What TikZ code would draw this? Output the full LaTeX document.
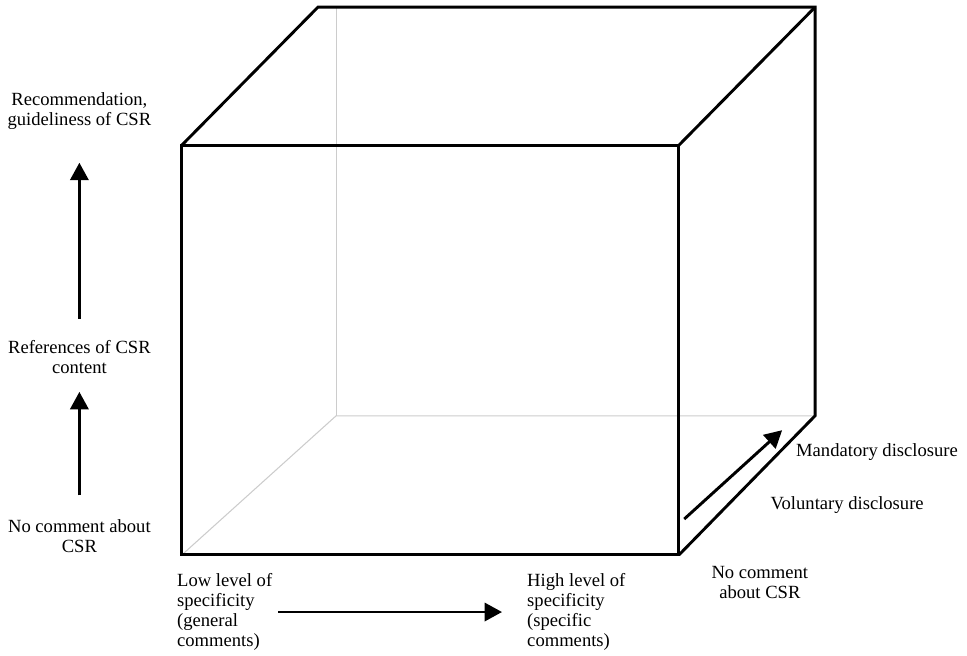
\documentclass[tikz,border=0pt]{standalone}
\usepackage{fontspec}
\setmainfont{Liberation Serif}
\usetikzlibrary{arrows.meta,positioning}

\tikzset{
  edge/.style={line width=2.2pt, line join=miter},
  hidden/.style={line width=0.8pt, gray!40},
  lbl/.style={font=\fontsize{14}{15}\selectfont, align=center, inner sep=0pt},
  arr/.style={line width=2.2pt, -{Triangle[length=0.46cm,width=0.48cm]}},
}

\begin{document}
\begin{tikzpicture}
  \useasboundingbox (0,0) rectangle (25.58,17.35);

  % hidden edges of the cube
  \draw[hidden] (4.81,2.67) -- (8.89,6.35) -- (21.56,6.35);
  \draw[hidden] (8.89,6.35) -- (8.89,17.16);

  % visible edges
  \draw[edge] (4.81,2.67) rectangle (17.96,13.51);
  \draw[edge] (4.81,13.51) -- (8.41,17.16) -- (21.56,17.16) -- (21.56,6.35) -- (17.96,2.67);
  \draw[edge] (17.96,13.51) -- (21.56,17.16);

  % vertical axis
  \node[lbl] (rec) at (2.1,14.41) {Recommendation,\\guideliness of CSR};
  \node[lbl] (ref) at (2.1,7.91) {References of CSR\\content};
  \node[lbl] (nocl) at (2.1,3.17) {No comment about\\CSR};
  \draw[arr, shorten <=0.56cm, shorten >=0.87cm] (ref) -- (rec);
  \draw[arr, shorten <=0.63cm, shorten >=0.48cm] (nocl) -- (ref);

  % horizontal axis
  \node[lbl, anchor=west, align=left] (low) at (4.68,1.16) {Low level of\\specificity\\(general\\comments)};
  \node[lbl, anchor=west, align=left] (high) at (13.94,1.16) {High level of\\specificity\\(specific\\comments)};
  \draw[arr, shorten <=0.15cm, shorten >=0.66cm] (low) -- (high);

  % depth axis
  \node[lbl] (nocr) at (20.10,1.95) {No comment\\about CSR};
  \node[lbl] (vol) at (22.41,3.99) {Voluntary disclosure};
  \node[lbl] (mand) at (23.20,5.39) {Mandatory disclosure};
  \coordinate (dtail) at (18.10,3.62);
  \coordinate (dtip) at (20.69,5.97);
  \draw[arr] (dtail) -- (dtip);
\end{tikzpicture}
\end{document}
